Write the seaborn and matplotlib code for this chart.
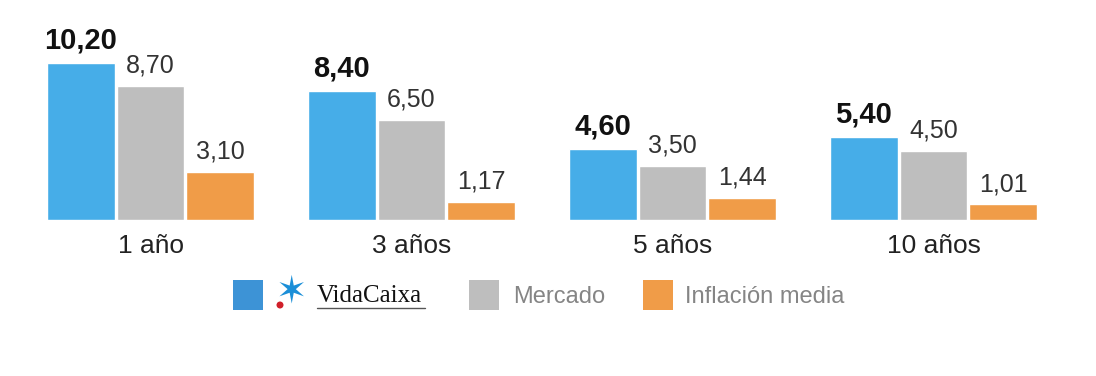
import numpy as np
import pandas as pd
import seaborn as sns
import matplotlib.pyplot as plt
from matplotlib.patches import Rectangle, Ellipse

periods = ["1 año", "3 años", "5 años", "10 años"]
vidacaixa = [10.20, 8.40, 4.60, 5.40]
mercado = [8.70, 6.50, 3.50, 4.50]
inflacion = [3.10, 1.17, 1.44, 1.01]

series_names = ["VidaCaixa", "Mercado", "Inflación media"]
bar_colors = ["#46ADE8", "#BEBEBE", "#F09C48"]
legend_colors = ["#3D93D6", "#BEBEBE", "#F09C48"]

df = pd.DataFrame({
    "periodo": periods * 3,
    "serie": np.repeat(series_names, len(periods)),
    "valor": vidacaixa + mercado + inflacion,
})

sns.set_theme(style="white")
plt.rcParams["font.family"] = ["Liberation Sans", "DejaVu Sans"]

W, H = 1096, 376
fig = plt.figure(figsize=(W / 100, H / 100), dpi=100)
ax = fig.add_axes([20 / W, 1 - 220 / H, 1044 / W, 200 / H])

sns.barplot(
    data=df,
    x="periodo",
    y="valor",
    hue="serie",
    hue_order=series_names,
    palette=bar_colors,
    saturation=1,
    width=0.8,
    gap=0.03,
    ax=ax,
    legend=False,
)

for i, cont in enumerate(ax.containers):
    labels = [f"{v:.2f}".replace(".", ",") for v in cont.datavalues]
    if i == 0:
        ax.bar_label(cont, labels=labels, padding=6, fontsize=21,
                     fontweight="bold", color="#111111")
    else:
        ax.bar_label(cont, labels=labels, padding=6, fontsize=18,
                     color="#333333")

ax.set_xlim(-0.5, 3.5)
ax.set_ylim(0, 13.0)
ax.set_xlabel("")
ax.set_ylabel("")
ax.set_yticks([])
ax.tick_params(axis="x", length=0, pad=10, labelsize=19, labelcolor="#222222")
sns.despine(ax=ax, left=True, bottom=True)


# legend, drawn by hand in figure pixels
def px(x, y):
    return x / W, 1 - y / H


legend_y = 297
square_x = [233, 469, 643]
text_x = [317, 513, 685]
for sx, c in zip(square_x, legend_colors):
    x0, y0 = px(sx, 310)
    fig.add_artist(Rectangle((x0, y0), 30 / W, 30 / H, facecolor=c,
                             edgecolor="none", transform=fig.transFigure))

fig.text(*px(text_x[0], legend_y - 1), "VidaCaixa", fontsize=18,
         color="#111111", family=["Liberation Serif", "DejaVu Serif"],
         ha="left", va="center")
fig.text(*px(text_x[1], legend_y), "Mercado", fontsize=17, color="#858585",
         ha="left", va="center")
fig.text(*px(text_x[2], legend_y), "Inflación media", fontsize=17,
         color="#858585", ha="left", va="center")

# VidaCaixa logo: blue star, red dot, underline
fig.text(*px(291, 292), "✶", color="#1B8FD8", fontsize=27, ha="center",
         va="center", family="DejaVu Sans")
fig.add_artist(Ellipse(px(280, 305), 7 / W, 7 / H, facecolor="#D0202A",
                       edgecolor="none", transform=fig.transFigure))
ux0, uy = px(317, 308)
fig.add_artist(plt.Line2D([ux0, 425 / W], [uy, uy], color="#555555",
                          linewidth=1.0))

fig.savefig("out.png", dpi=100)
